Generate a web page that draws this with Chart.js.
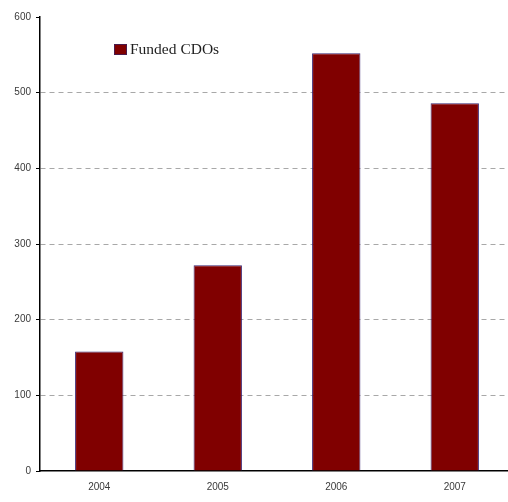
<!DOCTYPE html>
<html>
<head>
<meta charset="utf-8">
<script src="https://cdn.jsdelivr.net/npm/chart.js@4/dist/chart.umd.min.js"></script>
<style>
  html, body { margin: 0; padding: 0; background: #fff; overflow: hidden; }
  #wrap { width: 514px; height: 502px; }
</style>
</head>
<body>
<div id="wrap"><canvas id="c" width="514" height="502"></canvas></div>
<script>
const years = ['2004', '2005', '2006', '2007'];
const fundedCDOs = [158, 272, 552, 486];
const seriesName = 'Funded CDOs';
const yTicks = [0, 100, 200, 300, 400, 500, 600];

const barFill = '#800000';
const barEdge = '#3a2470';

// Legend box drawn inside the plot area, upper left
const insideLegend = {
  id: 'insideLegend',
  afterDraw(chart) {
    const ctx = chart.ctx;
    const ds = chart.data.datasets[0];
    ctx.save();
    ctx.fillStyle = '#4a1a4a';
    ctx.fillRect(114, 44, 13, 11);
    ctx.fillStyle = ds.backgroundColor;
    ctx.fillRect(115, 45, 11, 9);
    ctx.fillStyle = '#1e1e1e';
    ctx.font = '15.5px "Liberation Serif", serif';
    ctx.textBaseline = 'middle';
    ctx.textAlign = 'left';
    ctx.fillText(ds.label, 130, 50);
    ctx.restore();
  }
};

new Chart(document.getElementById('c'), {
  type: 'bar',
  data: {
    labels: years,
    datasets: [{
      label: seriesName,
      data: fundedCDOs,
      backgroundColor: barFill,
      borderColor: barEdge,
      borderWidth: 1,
      categoryPercentage: 0.8,
      barPercentage: 0.51
    }]
  },
  options: {
    responsive: false,
    animation: false,
    layout: { padding: { top: 17, right: 0, bottom: 0, left: 0 } },
    plugins: {
      legend: { display: false },
      tooltip: { enabled: false }
    },
    scales: {
      x: {
        grid: { display: false },
        border: { display: true, color: '#000', width: 1.5 },
        ticks: {
          color: '#3a3a3a',
          font: { family: '"Liberation Sans", sans-serif', size: 10 },
          padding: 2
        },
        afterFit(scale) { scale.height = 31; }
      },
      y: {
        min: 0,
        max: 600,
        afterBuildTicks(scale) { scale.ticks = yTicks.map(v => ({ value: v })); },
        grid: {
          color(ctx) {
            const v = ctx.tick && ctx.tick.value;
            return (v === 0 || v === 600) ? 'rgba(0,0,0,0)' : '#a8a8a8';
          },
          lineWidth: 1,
          tickColor: '#000',
          tickLength: 4,
          drawTicks: true
        },
        border: { display: true, color: '#000', width: 1.5, dash: [5, 4], dashOffset: 0 },
        ticks: {
          color: '#3a3a3a',
          font: { family: '"Liberation Sans", sans-serif', size: 10 },
          padding: 5
        },
        afterFit(scale) { scale.width = 40; }
      }
    }
  },
  plugins: [insideLegend]
});
</script>
</body>
</html>
